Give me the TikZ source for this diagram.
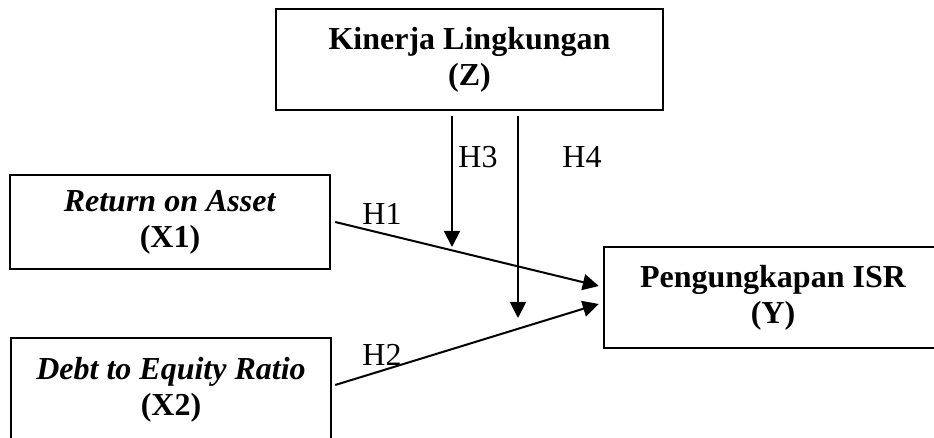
\documentclass[tikz,border=0pt]{standalone}
\usepackage{fontspec}
\setmainfont{Liberation Serif}
\usetikzlibrary{arrows.meta}
\tikzset{
  varbox/.style={draw, line width=1.2pt, align=center, inner sep=0pt, font=\fontsize{16}{18}\selectfont\bfseries},
  hyparrow/.style={line width=1pt, -{Triangle[length=8pt,width=8pt]}},
  hyplabel/.style={font=\fontsize{16}{18}\selectfont, inner sep=0pt}
}
\begin{document}
\begin{tikzpicture}[x=0.5pt, y=-0.5pt]
        \useasboundingbox (0,0) rectangle (934,438);
        \node (Z) at (469.5,59.5)[varbox, minimum width=193.5pt, minimum height=50.5pt]{Kinerja Lingkungan\\(Z)};
        \node (X1) at (170,222)[varbox, minimum width=160pt, minimum height=47pt]{\textit{Return on Asset}\\(X1)};
        \node (X2) at (171,390)[varbox, minimum width=160pt, minimum height=52pt]{\textit{Debt to Equity Ratio}\\(X2)};
        \node (Y) at (773,297.5)[varbox, minimum width=169pt, minimum height=50.5pt]{Pengungkapan ISR\\(Y)};
        \coordinate (h3tip) at (452,247);
        \coordinate (h4tip) at (518,318);

        \draw[hyparrow] ([xshift=2pt]X1.east) -- ([xshift=-2pt,yshift=5.75pt]Y.west);
        \draw[hyparrow] ([xshift=1.5pt,yshift=2.5pt]X2.east) -- ([xshift=-2pt,yshift=-3.25pt]Y.west);
        \draw[hyparrow] ([xshift=-8.75pt,yshift=-2.5pt]Z.south) -- (h3tip);
        \draw[hyparrow] ([xshift=24.25pt,yshift=-2.5pt]Z.south) -- (h4tip);

        \node (h1) at (382,214)[hyplabel]{H1};
        \node (h2) at (382,355)[hyplabel]{H2};
        \node (h3) at (478,157)[hyplabel]{H3};
        \node (h4) at (582,157)[hyplabel]{H4};
    \end{tikzpicture}
\end{document}
